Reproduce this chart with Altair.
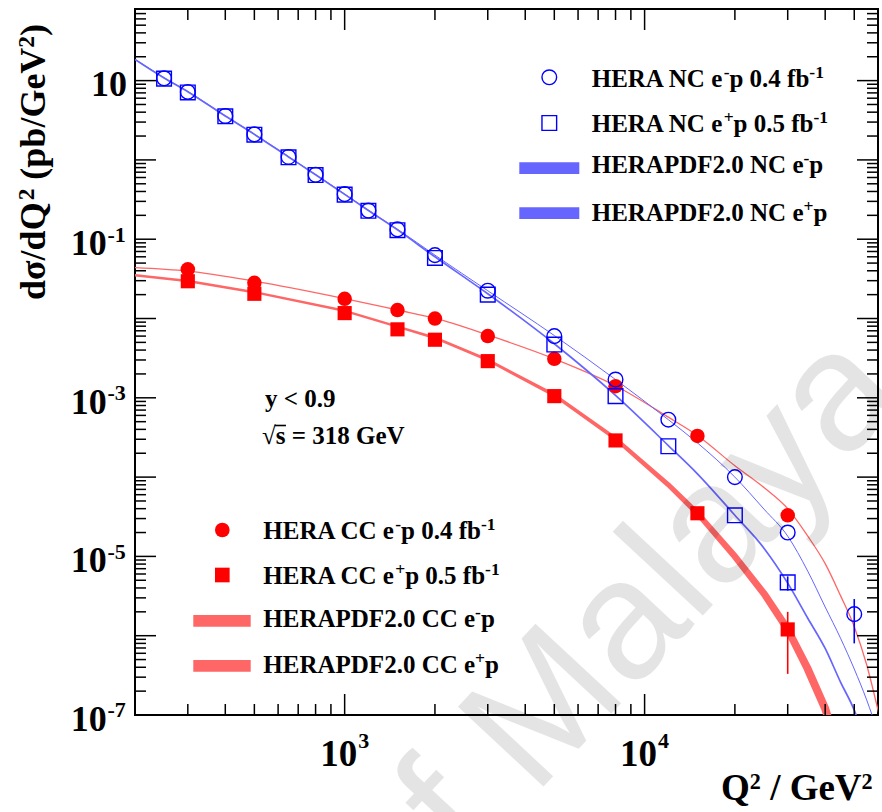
import altair as alt
import pandas as pd

# ---------------- data ----------------
# HERA NC e-p 0.4 fb-1 (open circles)
nc_em_q2 = [250, 300, 400, 500, 650, 800, 1000, 1200, 1500, 2000, 3000, 5000, 8000, 12000, 20000, 30000, 50000]
nc_em_xs = [10.7, 7.2, 3.58, 2.1, 1.09, 0.65, 0.37, 0.23, 0.133, 0.063, 0.0224, 0.0060, 0.0017, 5.3e-4, 1.0e-4, 2.0e-5, 1.87e-6]
# HERA NC e+p 0.5 fb-1 (open squares)
nc_ep_q2 = [250, 300, 400, 500, 650, 800, 1000, 1200, 1500, 2000, 3000, 5000, 8000, 12000, 20000, 30000]
nc_ep_xs = [10.6, 7.1, 3.55, 2.08, 1.08, 0.645, 0.365, 0.228, 0.13, 0.058, 0.020, 0.0047, 0.00105, 2.45e-4, 3.3e-5, 4.7e-6]
# HERA CC e-p 0.4 fb-1 (full circles) and CC e+p 0.5 fb-1 (full squares)
cc_q2 = [300, 500, 1000, 1500, 2000, 3000, 5000, 8000, 15000, 30000]
cc_em_xs = [0.0417, 0.0282, 0.0177, 0.0128, 0.0100, 0.0060, 0.0031, 0.0014, 3.3e-4, 3.3e-5]
cc_ep_xs = [0.0295, 0.0205, 0.0117, 0.0073, 0.0054, 0.0029, 0.00105, 2.9e-4, 3.5e-5, 1.2e-6]
# visible error bars
err_series = ["NC e-p", "NC e+p", "CC e+p"]
err_q2 = [50000, 30000, 30000]
err_lo = [8.0e-7, 3.7e-6, 3.3e-7]
err_hi = [2.9e-6, 5.6e-6, 2.0e-6]

# HERAPDF2.0 predictions
pdf_nc_em_q2 = [200, 250, 300, 400, 500, 650, 800, 1000, 1200, 1500, 2000, 3000, 5000, 8000, 12000, 15000,
                20000, 25000, 30000, 35000, 40000, 45000, 50000, 55000, 60000]
pdf_nc_em = [18.6, 10.9, 7.3, 3.6, 2.12, 1.1, 0.655, 0.372, 0.232, 0.134, 0.063, 0.0224, 0.0061, 0.0017, 5.3e-4, 2.7e-4,
             1.0e-4, 3.95e-5, 1.8e-5, 6.5e-6, 2.3e-6, 9.3e-7, 3.8e-7, 1.55e-7, 6e-8]
pdf_nc_ep_q2 = [200, 250, 300, 400, 500, 650, 800, 1000, 1200, 1500, 2000, 3000, 5000, 8000, 12000, 15000,
                20000, 25000, 30000, 35000, 40000, 45000, 50000, 55000]
pdf_nc_ep = [18.5, 10.8, 7.25, 3.57, 2.1, 1.09, 0.65, 0.368, 0.23, 0.131, 0.06, 0.0205, 0.0048, 0.00107, 2.5e-4, 1.1e-4,
             3.3e-5, 1.27e-5, 4.6e-6, 1.66e-6, 6.9e-7, 2.6e-7, 1.15e-7, 4e-8]
pdf_cc_em_q2 = [200, 300, 500, 1000, 1500, 2000, 3000, 5000, 8000, 12000, 15000, 20000, 25000, 30000, 35000,
                40000, 45000, 50000, 55000, 60000, 65000]
pdf_cc_em = [0.0437, 0.0395, 0.0296, 0.0178, 0.0128, 0.0101, 0.0062, 0.0031, 0.00142, 5.7e-4, 3.35e-4, 1.39e-4,
             7.4e-5, 4.0e-5, 1.8e-5, 8.1e-6, 3.2e-6, 1.3e-6, 4.3e-7, 1.15e-7, 3e-8]
pdf_cc_ep_q2 = [200, 300, 500, 1000, 1500, 2000, 3000, 5000, 8000, 12000, 15000, 20000, 25000, 30000, 35000, 40000, 45000]
pdf_cc_ep = [0.0350, 0.0298, 0.0215, 0.0125, 0.0079, 0.0057, 0.0030, 0.00108, 3.05e-4, 8.0e-5, 3.5e-5, 1.0e-5,
             3.4e-6, 1.2e-6, 3.8e-7, 1.2e-7, 3e-8]
pdf_cc_ep_unc = [2.5, 2.5, 2.5, 2.5, 2.5, 2.7, 3.0, 3.5, 4.0, 5.0, 5.5, 6.5, 7.0, 7.5, 8.0, 8.0, 8.0]

# axis tick labels
xtick_vals = [1000, 10000]
xtick_exp = ["3", "4"]
ytick_vals = [10, 0.1, 1e-3, 1e-5, 1e-7]
ytick_exp = ["", "-1", "-3", "-5", "-7"]

# ---------------- layout ----------------
W, H = 743, 706
L, T = 135, 9
FONT = "Liberation Serif"
BLUE, RED = "#0000ff", "#ff0000"
PDF_BLUE, PDF_RED = "#6666ff", "#ff6666"
xsc = alt.Scale(type="log", domain=[200, 60000], nice=False)
ysc = alt.Scale(type="log", domain=[1e-7, 80], nice=False)
one = pd.DataFrame({"k": [0]})

TB = {' ': 250, '(': 333, ')': 333, '+': 570, '-': 333, '.': 250, '/': 278, '<': 570, '=': 570,
      'A': 722, 'C': 722, 'D': 722, 'E': 667, 'F': 611, 'G': 778, 'H': 778, 'N': 722, 'P': 611,
      'Q': 778, 'R': 722, 'V': 722, 'b': 556, 'd': 556, 'e': 444, 'f': 333, 'p': 556, 's': 389,
      'y': 500, 'σ': 600, '√': 549}


def tw(s, fs):
    return sum(TB.get(c, 500) for c in s) / 1000.0 * fs


def txt(xa, ya, s, fs, angle=0, align="left", font=FONT, weight="bold", color="black", opacity=1.0):
    return alt.Chart(one).mark_text(
        align=align, baseline="alphabetic", font=font, fontSize=fs, fontWeight=weight,
        color=color, angle=angle, opacity=opacity
    ).encode(x=alt.value(xa - L), y=alt.value(ya - T), text=alt.value(s))


def split_lead(s):
    core = s.lstrip(" ")
    return len(s) - len(core), core


def rich(x0, y0, segs, fs, sup_scale=0.7, rise=0.36):
    out, x = [], x0
    for s, sup in segs:
        f = fs * sup_scale if sup else fs
        y = y0 - rise * fs if sup else y0
        n, core = split_lead(s)
        x += tw(" " * n, f)
        out.append(txt(x, y, core, f))
        x += tw(core, f)
    return out


def rich_vertical(xb, y0, segs, fs, sup_scale=0.65, rise=0.3):
    out, y = [], y0
    for s, sup in segs:
        f = fs * sup_scale if sup else fs
        x = xb - rise * fs if sup else xb
        n, core = split_lead(s)
        y -= tw(" " * n, f)
        out.append(txt(x, y, core, f, angle=270))
        y -= tw(core, f)
    return out


def df(q, v):
    return pd.DataFrame({"q2": q, "v": v})


X = alt.X("q2:Q", scale=xsc, axis=None)
Y = alt.Y("v:Q", scale=ysc, axis=None)

layers = []

# ---- HERAPDF curves ----
layers.append(alt.Chart(df(pdf_cc_ep_q2, pdf_cc_ep).assign(u=pdf_cc_ep_unc)).mark_trail(
    color=PDF_RED, clip=True).encode(
    x=X, y=Y, size=alt.Size("u:Q", scale=alt.Scale(domain=[0, 10], range=[0, 10]), legend=None)))
layers.append(alt.Chart(df(pdf_cc_em_q2, pdf_cc_em)).mark_line(
    color=PDF_RED, strokeWidth=1.3, clip=True, interpolate="monotone").encode(x=X, y=Y))
layers.append(alt.Chart(df(pdf_nc_ep_q2, pdf_nc_ep)).mark_line(
    color=PDF_BLUE, strokeWidth=1.7, clip=True, interpolate="monotone").encode(x=X, y=Y))
layers.append(alt.Chart(df(pdf_nc_em_q2, pdf_nc_em)).mark_line(
    color=PDF_BLUE, strokeWidth=1.0, clip=True, interpolate="monotone").encode(x=X, y=Y))

# ---- error bars ----
err_df = pd.DataFrame({"s": err_series, "q2": err_q2, "lo": err_lo, "hi": err_hi})
layers.append(alt.Chart(err_df).mark_rule(strokeWidth=1.6).encode(
    x=X, y=alt.Y("lo:Q", scale=ysc, axis=None), y2="hi:Q",
    color=alt.Color("s:N", scale=alt.Scale(domain=err_series, range=[BLUE, BLUE, RED]), legend=None)))

# ---- data points ----
layers.append(alt.Chart(df(cc_q2, cc_em_xs)).mark_point(
    shape="circle", filled=True, size=210, color=RED, opacity=1).encode(x=X, y=Y))
layers.append(alt.Chart(df(cc_q2, cc_ep_xs)).mark_point(
    shape="square", filled=True, size=200, color=RED, opacity=1).encode(x=X, y=Y))
layers.append(alt.Chart(df(nc_ep_q2, nc_ep_xs)).mark_point(
    shape="square", filled=False, size=215, color=BLUE, strokeWidth=1.4, opacity=1).encode(x=X, y=Y))
layers.append(alt.Chart(df(nc_em_q2, nc_em_xs)).mark_point(
    shape="circle", filled=False, size=215, color=BLUE, strokeWidth=1.4, opacity=1).encode(x=X, y=Y))

# ---- ticks (inside the frame, on all four sides) ----
minor_x = [m * 10 ** k for k in (2, 3, 4) for m in range(2, 10) if 200 < m * 10 ** k < 60000]
major_x = [1000, 10000]
major_y = [10.0 ** k for k in range(-6, 2)]
minor_y = [m * 10.0 ** k for k in range(-7, 2) for m in range(2, 10) if m * 10.0 ** k < 78]


def ticks(vals, axis, side, length):
    d = pd.DataFrame({"t": vals})
    if axis == "x":
        enc = dict(x=alt.X("t:Q", scale=xsc, axis=None),
                   y=alt.value(0 if side == "top" else H),
                   y2=alt.value(length if side == "top" else H - length))
    else:
        enc = dict(y=alt.Y("t:Q", scale=ysc, axis=None),
                   x=alt.value(0 if side == "left" else W),
                   x2=alt.value(length if side == "left" else W - length))
    return alt.Chart(d).mark_rule(color="black", strokeWidth=1.5).encode(**enc)


for side in ("top", "bottom"):
    layers.append(ticks(minor_x, "x", side, 11))
    layers.append(ticks(major_x, "x", side, 21))
for side in ("left", "right"):
    layers.append(ticks(minor_y, "y", side, 11))
    layers.append(ticks(major_y, "y", side, 21))

# ---- tick labels ----
ylab = pd.DataFrame({"t": ytick_vals, "e": ytick_exp})
lab_font = dict(font=FONT, fontWeight="bold", baseline="alphabetic", color="black")
layers.append(alt.Chart(ylab).transform_filter("datum.e == ''").mark_text(
    align="right", dy=15.7, fontSize=36, **lab_font).encode(
    y=alt.Y("t:Q", scale=ysc, axis=None), x=alt.value(127 - L), text=alt.value("10")))
layers.append(alt.Chart(ylab).transform_filter("datum.e != ''").mark_text(
    align="right", dy=15.7, fontSize=36, **lab_font).encode(
    y=alt.Y("t:Q", scale=ysc, axis=None), x=alt.value(106.7 - L), text=alt.value("10")))
layers.append(alt.Chart(ylab).transform_filter("datum.e != ''").mark_text(
    align="left", dy=2.3, fontSize=22, **lab_font).encode(
    y=alt.Y("t:Q", scale=ysc, axis=None), x=alt.value(107.5 - L), text="e:N"))

xlab = pd.DataFrame({"t": xtick_vals, "e": xtick_exp})
layers.append(alt.Chart(xlab).mark_text(align="left", dx=-24.5, fontSize=37, **lab_font).encode(
    x=alt.X("t:Q", scale=xsc, axis=None), y=alt.value(766 - T), text=alt.value("10")))
layers.append(alt.Chart(xlab).mark_text(align="left", dx=13.5, fontSize=22, **lab_font).encode(
    x=alt.X("t:Q", scale=xsc, axis=None), y=alt.value(748 - T), text="e:N"))

# ---- axis titles ----
layers += rich(721, 800, [("Q", 0), ("2", 1), (" / GeV", 0), ("2", 1)], 37, sup_scale=0.6, rise=0.3)
layers += rich_vertical(45, 300, [("dσ/dQ", 0), ("2", 1), (" (pb/GeV", 0), ("2", 1), (")", 0)], 36)

# ---- annotations ----
layers.append(txt(265, 406.5, "y < 0.9", 25))
layers.append(txt(262, 444, "√s = 318 GeV", 25))
# overline of the square root over "s"
_sx = 262 + tw("√", 25)
layers.append(alt.Chart(one).mark_rule(color="black", strokeWidth=1.6).encode(
    x=alt.value(_sx - 1 - L), x2=alt.value(_sx + tw("s", 25) + 0.5 - L),
    y=alt.value(425.5 - T)))


# ---- legends ----
def sym(xa, ya, shape, filled, color):
    kw = dict(shape=shape, filled=filled, size=215, color=color, opacity=1)
    if not filled:
        kw["strokeWidth"] = 1.4
    return alt.Chart(one).mark_point(**kw).encode(x=alt.value(xa - L), y=alt.value(ya - T))


def swatch(x1, x2, y1, y2, color):
    return alt.Chart(one).mark_rect(color=color).encode(
        x=alt.value(x1 - L), x2=alt.value(x2 - L), y=alt.value(y1 - T), y2=alt.value(y2 - T))


LF = 25
layers.append(sym(549.3, 77.3, "circle", False, BLUE))
layers += rich(591.7, 87.3, [("HERA NC e", 0), ("-", 1), ("p 0.4 fb", 0), ("-1", 1)], LF)
layers.append(sym(549.3, 123, "square", False, BLUE))
layers += rich(591.7, 131.7, [("HERA NC e", 0), ("+", 1), ("p 0.5 fb", 0), ("-1", 1)], LF)
layers.append(swatch(519.3, 579.3, 162.3, 174, PDF_BLUE))
layers += rich(591.7, 173.3, [("HERAPDF2.0 NC e", 0), ("-", 1), ("p", 0)], LF)
layers.append(swatch(519.3, 579.3, 207.3, 219, PDF_BLUE))
layers += rich(591.7, 220.7, [("HERAPDF2.0 NC e", 0), ("+", 1), ("p", 0)], LF)

layers.append(sym(222.3, 530, "circle", True, RED))
layers += rich(263.3, 539, [("HERA CC e", 0), ("-", 1), ("p 0.4 fb", 0), ("-1", 1)], LF)
layers.append(sym(222.3, 575, "square", True, RED))
layers += rich(263.3, 584, [("HERA CC e", 0), ("+", 1), ("p 0.5 fb", 0), ("-1", 1)], LF)
layers.append(swatch(193.3, 250.7, 615, 626.7, PDF_RED))
layers += rich(263.3, 626.7, [("HERAPDF2.0 CC e", 0), ("-", 1), ("p", 0)], LF)
layers.append(swatch(193.3, 250.7, 660, 671.7, PDF_RED))
layers += rich(263.3, 673.3, [("HERAPDF2.0 CC e", 0), ("+", 1), ("p", 0)], LF)

# ---- watermark ----
layers.append(txt(405, 935, "of Malaya", 170, angle=313, font="Liberation Sans", weight="normal", opacity=0.1))

chart = alt.layer(*layers).properties(
    width=W, height=H,
    padding={"left": L, "top": T, "right": 882 - L - W, "bottom": 812 - T - H},
    autosize=alt.AutoSizeParams(type="none"),
    background="white",
).configure_view(stroke="black", strokeWidth=2)

chart.save("out.html", embed_options={"renderer": "svg", "actions": False})
